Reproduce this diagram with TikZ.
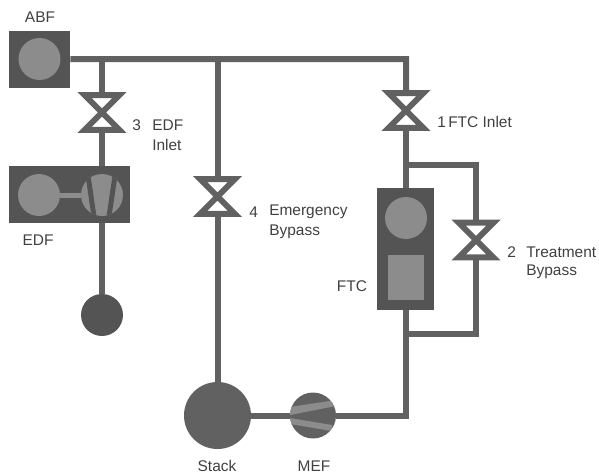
\documentclass[tikz,border=0pt]{standalone}
\usepackage{fontspec}
\setmainfont{Liberation Sans}
\usetikzlibrary{positioning, calc}
\definecolor{darkfill}{gray}{0.33}
\definecolor{pipegray}{gray}{0.38}
\definecolor{lightfill}{gray}{0.55}
\definecolor{labelgray}{gray}{0.25}
\tikzset{%
  box/.style      = {fill = darkfill, inner sep = 0pt}, % Housing
  disc/.style     = {circle, fill = lightfill, inner sep = 0pt, minimum size = 10.5mm}, % Motor
  valve/.style    = {inner sep = 0pt, minimum width = 8.5mm, minimum height = 8.5mm},
  bowtie/.style   = {draw = pipegray, line width = 1.5mm, line join = miter},
  pipe/.style     = {draw = pipegray, line width = 1.5mm},
  label/.style    = {text = labelgray, font = \fontsize{11}{13}\selectfont, inner sep = 0pt}
}
\newcommand{\valvesym}[2]{%
  \node [valve] (#1) at (#2) {};
  \draw [bowtie] (#1.north west) -- (#1.north east) -- (#1.south west) -- (#1.south east) -- cycle;
}
\begin{document}
\begin{tikzpicture}[x = 0.25mm, y = -0.25mm]
\useasboundingbox (0,0) rectangle (599,473);
% fans and housings
\draw
	(39.5,59.5) node [box, minimum width = 15.25mm, minimum height = 14.25mm] (abf) {}
	(39.5,59) node [disc] (abfm) {}
	(69.5,194.5) node [box, minimum width = 30.25mm, minimum height = 14.25mm] (edf) {}
	(39,195) node [disc] (edfm) {}
	(102,195) node [disc] (edff) {}
	(405.5,249) node [box, minimum width = 14.25mm, minimum height = 30.5mm] (ftc) {}
	(406,218) node [disc] (ftcm) {}
	(406,277.5) node [fill = lightfill, inner sep = 0pt, minimum width = 9mm, minimum height = 11.25mm] (ftcf) {}
	(102,315) node [disc, fill = darkfill] (edfs) {}
	(217.5,415.5) node [disc, fill = pipegray, minimum size = 16.75mm] (stack) {}
	(313,415.5) node [disc, fill = pipegray, minimum size = 11.5mm] (mef) {};
% valves
\valvesym{v1}{406,110.5}
\valvesym{v2}{476,240}
\valvesym{v3}{102,112.5}
\valvesym{v4}{217.5,196.5}
% pipe corners
\coordinate (j3) at (102,59);
\coordinate (j4) at (217.5,59);
\coordinate (j1) at (406,59);
\coordinate (jt) at (406,165);
\coordinate (ct) at (476,165);
\coordinate (jb) at (406,334);
\coordinate (cb) at (476,334);
\coordinate (cm) at (406,415.5);
% main lines
\draw[pipe] (abf) -- (j3) -- (j4) -- (j1) -- (v1);
\draw[pipe] (j3) -- (v3);
\draw[pipe] (v3) -- (edf.north -| v3);
\draw[pipe] (edf.south -| v3) -- (edfs);
\draw[pipe] (j4) -- (v4);
\draw[pipe] (v4) -- (stack);
\draw[pipe] (v1) -- (ftc.north -| v1);
% bypass lines
\draw[pipe] (jt) -- (ct) -- (v2);
\draw[pipe] (v2) -- (cb) -- (jb);
% exhaust lines
\draw[pipe] (ftc.south -| v1) -- (cm) -- (mef);
\draw[pipe] (mef) -- (stack);
% fan details
\draw[lightfill, line width = 1.25mm] (edfm) -- (edff);
\begin{scope}
\clip (102,195) circle [radius = 21];
\fill[darkfill] (85,172) -- (90,172) -- (97,220) -- (92,220) -- cycle;
\fill[darkfill] (113,172) -- (118,172) -- (111,220) -- (106,220) -- cycle;
\end{scope}
\begin{scope}
\clip (313,415.5) circle [radius = 23];
\fill[lightfill] (290,407) -- (336,400) -- (336,406) -- (290,415) -- cycle;
\fill[lightfill] (290,418) -- (332,425) -- (332,431) -- (290,424) -- cycle;
\end{scope}
% labels
\node [label] (labf) at (40,17) {ABF};
\node [label] (ledf) at (38,240) {EDF};
\node [label] (lftc) at (352,286) {FTC};
\node [label] (lstack) at (217,466) {Stack};
\node [label] (lmef) at (314,466) {MEF};
\node [label, anchor = west] (l3) at (132,125) {3};
\node [label, anchor = west] (l3a) at (152,125) {EDF};
\node [label, anchor = west] (l3b) at (152,145) {Inlet};
\node [label, anchor = west] (l4) at (249,212) {4};
\node [label, anchor = west] (l4a) at (269,212) {Emergency};
\node [label, anchor = west] (l4b) at (269,232) {Bypass};
\node [label, anchor = west] (l1) at (437,122) {1};
\node [label, anchor = west] (l1a) at (448,122) {FTC Inlet};
\node [label, anchor = west] (l2) at (507,252) {2};
\node [label, anchor = west] (l2a) at (526,252) {Treatment};
\node [label, anchor = west] (l2b) at (526,272) {Bypass};
\end{tikzpicture}
\end{document}
